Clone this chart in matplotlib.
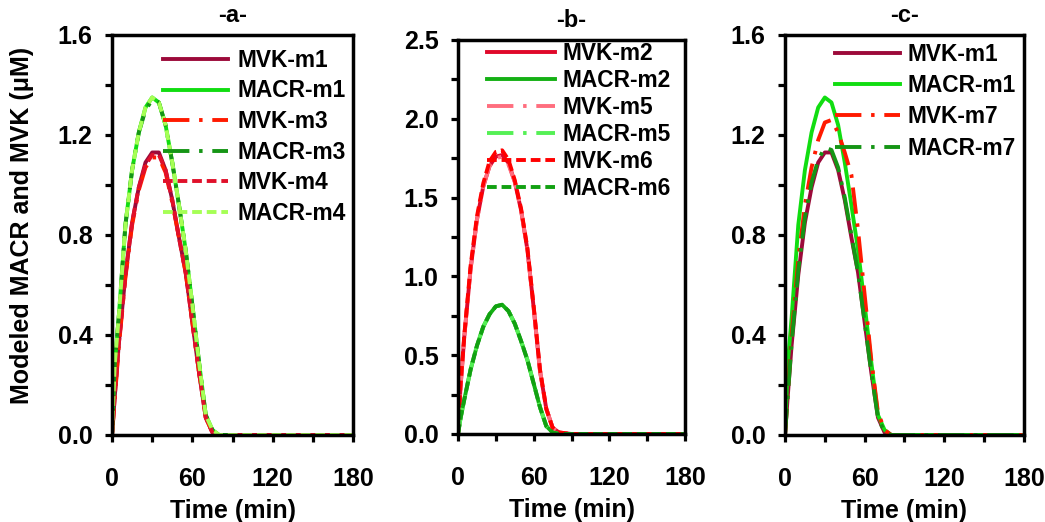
import matplotlib
matplotlib.use("Agg")
import matplotlib.pyplot as plt

plt.rcParams['font.family'] = ['Liberation Sans', 'DejaVu Sans']
plt.rcParams['font.weight'] = 'bold'
plt.rcParams['lines.scale_dashes'] = False

# time (min)
t = [0, 2, 5, 10, 15, 20, 25, 30, 35, 40, 45, 50, 55, 60, 65, 70, 75, 80, 90, 120, 150, 180]

# panel a
mvk_m1 = [0, 0.15, 0.36, 0.64, 0.85, 0.99, 1.09, 1.13, 1.13, 1.06, 0.94, 0.79, 0.65, 0.45, 0.25, 0.07, 0.01, 0, 0, 0, 0, 0]
macr_m1 = [0, 0.28, 0.47, 0.84, 1.06, 1.21, 1.31, 1.35, 1.33, 1.24, 1.09, 0.92, 0.74, 0.52, 0.29, 0.08, 0.02, 0, 0, 0, 0, 0]
mvk_m3 = [0, 0.14, 0.35, 0.63, 0.84, 0.98, 1.07, 1.11, 1.11, 1.05, 0.93, 0.79, 0.65, 0.45, 0.25, 0.07, 0.01, -0.01, 0, 0, 0, 0]
macr_m3 = [0, 0.28, 0.47, 0.84, 1.06, 1.21, 1.30, 1.34, 1.33, 1.24, 1.09, 0.92, 0.74, 0.52, 0.29, 0.08, 0.02, 0, 0, 0, 0, 0]
mvk_m4 = [0, 0.15, 0.36, 0.64, 0.85, 0.99, 1.08, 1.12, 1.12, 1.06, 0.94, 0.79, 0.65, 0.45, 0.25, 0.07, 0.01, -0.01, 0, 0, 0, 0]
macr_m4 = [0, 0.28, 0.47, 0.84, 1.06, 1.21, 1.31, 1.35, 1.33, 1.24, 1.09, 0.92, 0.74, 0.52, 0.29, 0.08, 0.02, 0, 0, 0, 0, 0]

# panel b
mvk_m2 = [0, 0.30, 0.62, 1.05, 1.36, 1.57, 1.70, 1.76, 1.77, 1.72, 1.60, 1.42, 1.17, 0.80, 0.40, 0.16, 0.04, 0.01, 0, 0, 0, 0]
macr_m2 = [0, 0.10, 0.22, 0.41, 0.56, 0.68, 0.76, 0.81, 0.82, 0.78, 0.70, 0.59, 0.47, 0.32, 0.17, 0.05, 0.01, 0, 0, 0, 0, 0]
mvk_m5 = [0, 0.30, 0.62, 1.05, 1.36, 1.57, 1.70, 1.75, 1.76, 1.71, 1.60, 1.42, 1.17, 0.80, 0.40, 0.16, 0.04, 0.01, 0, 0, 0, 0]
macr_m5 = [0, 0.10, 0.22, 0.41, 0.56, 0.68, 0.76, 0.81, 0.82, 0.78, 0.70, 0.59, 0.47, 0.32, 0.17, 0.05, 0.01, 0, 0, 0, 0, 0]
mvk_m6 = [0, 0.31, 0.63, 1.07, 1.38, 1.59, 1.73, 1.79, 1.80, 1.74, 1.61, 1.43, 1.18, 0.81, 0.41, 0.16, 0.04, 0.01, 0, 0, 0, 0]
macr_m6 = [0, 0.10, 0.22, 0.41, 0.56, 0.68, 0.76, 0.81, 0.82, 0.78, 0.70, 0.59, 0.47, 0.32, 0.17, 0.05, 0.01, 0, 0, 0, 0, 0]

# panel c
mvk_m7 = [0, 0.16, 0.40, 0.70, 0.92, 1.07, 1.18, 1.25, 1.26, 1.21, 1.13, 1.04, 0.82, 0.56, 0.30, 0.09, 0.02, 0, 0, 0, 0, 0]
macr_m7 = [0, 0.15, 0.37, 0.66, 0.87, 1.01, 1.10, 1.15, 1.14, 1.07, 0.95, 0.80, 0.65, 0.45, 0.25, 0.07, 0.01, 0, 0, 0, 0, 0]

solid = '-'
dashdot = (0, (19, 7, 2.5, 7))
dashed = (0, (7, 3.5))

fig = plt.figure(figsize=(10.45, 5.22), dpi=100)
ax_a = fig.add_axes([0.1072, 0.1667, 0.2306, 0.7663])
ax_b = fig.add_axes([0.4383, 0.1686, 0.2172, 0.7548])
ax_c = fig.add_axes([0.7512, 0.1667, 0.2287, 0.7663])

lw = 2.8
ax_a.plot(t, mvk_m1, color='#9c0a3a', ls=solid, lw=lw, label='MVK-m1')
ax_a.plot(t, macr_m1, color='#11dd11', ls=solid, lw=lw, label='MACR-m1')
ax_a.plot(t, mvk_m3, color='#ff1a00', ls=dashdot, lw=lw, label='MVK-m3')
ax_a.plot(t, macr_m3, color='#159515', ls=dashdot, lw=lw, label='MACR-m3')
ax_a.plot(t, mvk_m4, color='#e0102a', ls=dashed, lw=lw, label='MVK-m4')
ax_a.plot(t, macr_m4, color='#a6ff55', ls=dashed, lw=lw, label='MACR-m4')

ax_b.plot(t, mvk_m2, color='#e0082a', ls=solid, lw=lw, label='MVK-m2')
ax_b.plot(t, macr_m2, color='#14b014', ls=solid, lw=lw, label='MACR-m2')
ax_b.plot(t, mvk_m5, color='#ff6e7e', ls=dashdot, lw=lw, label='MVK-m5')
ax_b.plot(t, macr_m5, color='#55f055', ls=dashdot, lw=lw, label='MACR-m5')
ax_b.plot(t, mvk_m6, color='#ff0000', ls=dashed, lw=lw, label='MVK-m6')
ax_b.plot(t, macr_m6, color='#12a012', ls=dashed, lw=lw, label='MACR-m6')

ax_c.plot(t, mvk_m1, color='#9c0a3a', ls=solid, lw=lw, label='MVK-m1')
ax_c.plot(t, macr_m1, color='#11dd11', ls=solid, lw=lw, label='MACR-m1')
ax_c.plot(t, mvk_m7, color='#ff1a00', ls=dashdot, lw=lw, label='MVK-m7')
ax_c.plot(t, macr_m7, color='#159515', ls=dashdot, lw=lw, label='MACR-m7')

for ax, title in [(ax_a, '-a-'), (ax_b, '-b-'), (ax_c, '-c-')]:
    ax.set_xlim(0, 180)
    ax.set_xticks([0, 60, 120, 180])
    ax.set_xticks([30, 90, 150], minor=True)
    ax.set_title(title, fontsize=17, fontweight='bold', pad=9)
    ax.set_xlabel('Time (min)', fontsize=18, fontweight='bold')
    for s in ax.spines.values():
        s.set_linewidth(2.5)
    ax.tick_params(axis='both', which='both', direction='out', length=5, width=2.3, labelsize=18)
    ax.tick_params(axis='x', which='major', pad=18)
    ax.tick_params(axis='y', which='major', pad=9)

ax_a.set_ylim(0, 1.6)
ax_a.set_yticks([0, 0.4, 0.8, 1.2, 1.6])
ax_a.set_yticks([0.2, 0.6, 1.0, 1.4], minor=True)
ax_a.set_yticklabels(['0.0', '0.4', '0.8', '1.2', '1.6'])
ax_c.set_ylim(0, 1.6)
ax_c.set_yticks([0, 0.4, 0.8, 1.2, 1.6])
ax_c.set_yticks([0.2, 0.6, 1.0, 1.4], minor=True)
ax_c.set_yticklabels(['0.0', '0.4', '0.8', '1.2', '1.6'])
ax_b.set_ylim(0, 2.5)
ax_b.set_yticks([0, 0.5, 1.0, 1.5, 2.0, 2.5])
ax_b.set_yticks([0.25, 0.75, 1.25, 1.75, 2.25], minor=True)
ax_b.set_yticklabels(['0.0', '0.5', '1.0', '1.5', '2.0', '2.5'])

ax_a.xaxis.set_label_coords(0.5, -0.16)
ax_b.xaxis.set_label_coords(0.5, -0.162)
ax_c.xaxis.set_label_coords(0.5, -0.16)

ax_a.set_ylabel('Modeled MACR and MVK (\u03bcM)', fontsize=18, fontweight='bold')
ax_a.yaxis.set_label_coords(-0.325, 0.525)

ax_a.legend(loc='upper left', bbox_to_anchor=(0.212, 0.965), frameon=False, fontsize=16.4,
            handlelength=2.85, handletextpad=0.4, labelspacing=0.33, borderaxespad=0, borderpad=0)
ax_b.legend(loc='upper left', bbox_to_anchor=(0.128, 0.995), frameon=False, fontsize=16.4,
            handlelength=3.0, handletextpad=0.3, labelspacing=0.18, borderaxespad=0, borderpad=0)
ax_c.legend(loc='upper left', bbox_to_anchor=(0.209, 0.98), frameon=False, fontsize=16.4,
            handlelength=2.85, handletextpad=0.35, labelspacing=0.36, borderaxespad=0, borderpad=0)

fig.savefig('out.png', dpi=100)
